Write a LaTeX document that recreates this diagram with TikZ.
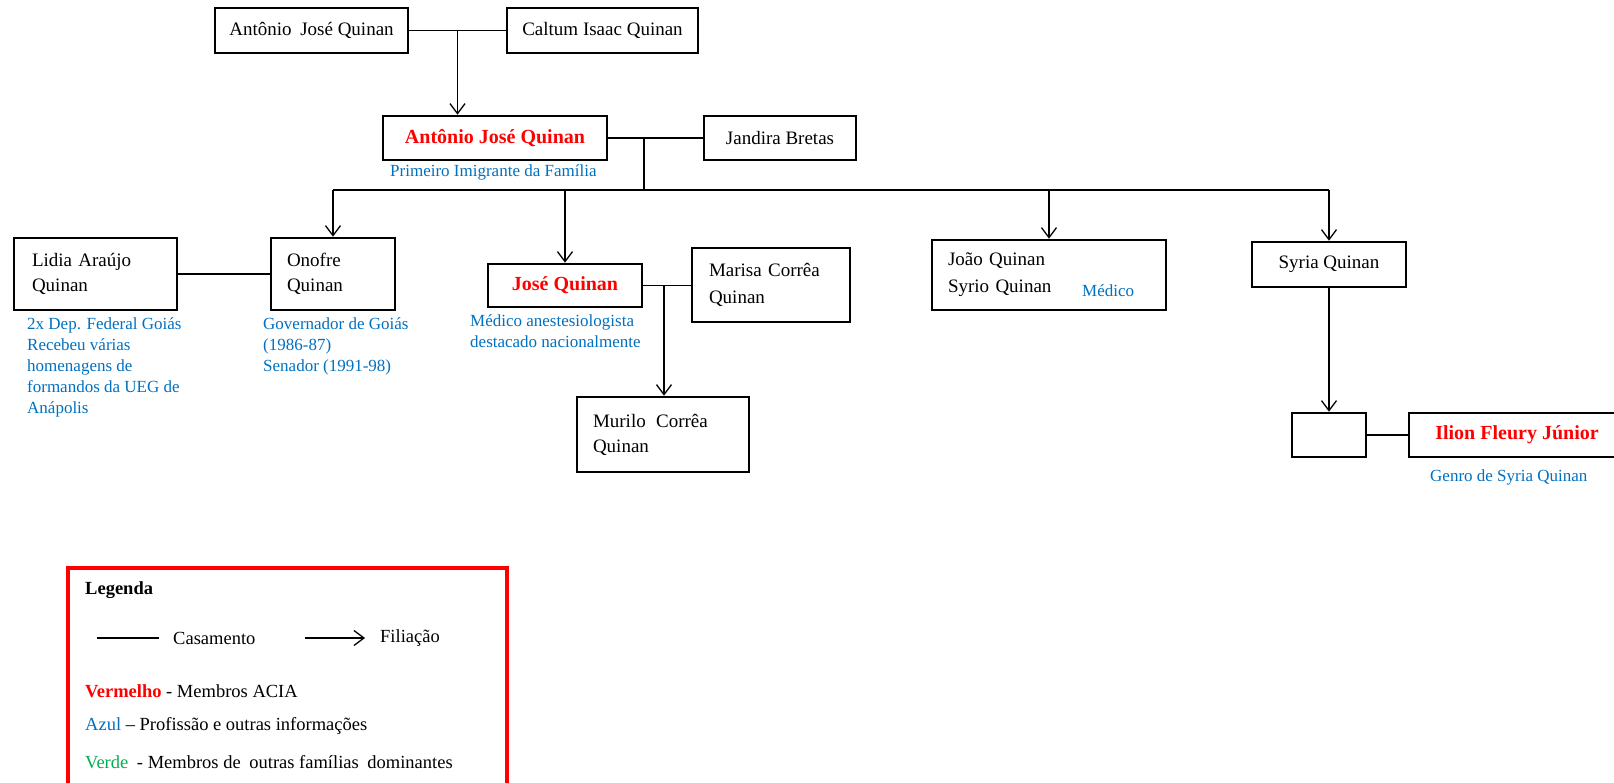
\documentclass[tikz,border=0pt]{standalone}
\usepackage{fontspec}
\setmainfont{Liberation Serif}
\usetikzlibrary{arrows.meta,calc}
\definecolor{acia}{RGB}{255,0,0}
\definecolor{info}{RGB}{0,112,192}
\definecolor{verde}{RGB}{0,176,80}
\begin{document}
\begin{tikzpicture}[x=1pt,y=-1pt,
  box/.style={draw=black, line width=2.6pt, fill=white, inner sep=0pt, font=\fontsize{19}{25}\selectfont},
  aciabox/.style={box, text=acia, font=\bfseries\fontsize{20}{24}\selectfont},
  mline/.style={line width=1.3pt},
  child/.style={line width=1.3pt, -{Straight Barb[length=10pt,width=15pt,line width=1.3pt]}},
  note/.style={text=info, font=\fontsize{17}{21}\selectfont, inner sep=0pt, align=left},
  legtext/.style={font=\fontsize{18.5}{22}\selectfont, inner sep=0pt, anchor=west}
]
\useasboundingbox (0,0) rectangle (1614,783);

% generation 1
\node[box, minimum width=193pt, minimum height=45pt] (a1) at (311.5,30.5) {Antônio\hspace{4pt} José Quinan};
\node[box, minimum width=191pt, minimum height=45pt] (c1) at (602.5,30.5) {Caltum Isaac Quinan};
% generation 2
\node[aciabox, minimum width=224pt, minimum height=44pt] (a2) at (495,138) {Antônio José Quinan};
\node[box, minimum width=152pt, minimum height=44pt] (jb) at (780,138) {Jandira Bretas};
% generation 3
\node[box, minimum width=163pt, minimum height=72pt, text width=127pt, align=left] (lidia) at (95.5,274) {Lidia Araújo\\Quinan};
\node[box, minimum width=124pt, minimum height=72pt, text width=92pt, align=left] (onofre) at (333,274) {Onofre\\Quinan};
\node[aciabox, minimum width=154pt, minimum height=43pt] (jose) at (565,285.5) {José Quinan};
\node[box, minimum width=158pt, minimum height=74pt, text width=124pt, align=left, font=\fontsize{19}{27}\selectfont] (marisa) at (771,285) {Marisa Corrêa\\Quinan};
\node[box, minimum width=234pt, minimum height=70pt, text width=202pt, align=left, font=\fontsize{19}{27}\selectfont] (joao) at (1049,275) {João Quinan\\Syrio Quinan};
\node[box, minimum width=154pt, minimum height=45pt] (syria) at (1329,264.5) {Syria Quinan};
% generation 4
\node[box, minimum width=172pt, minimum height=75pt, text width=140pt, align=left] (murilo) at (663,434.5) {Murilo\hspace{4pt} Corrêa\\Quinan};
\node[box, minimum width=74pt, minimum height=44pt] (empty) at (1329,435) {};
\node[aciabox, minimum width=216pt, minimum height=44pt] (ilion) at (1517,435) {Ilion Fleury Júnior};

% notes
\node[note, anchor=west] (n1) at (390,172) {Primeiro Imigrante da Família};
\node[note, anchor=north west] (n2) at (27,317) {2x Dep. Federal Goiás\\Recebeu várias\\homenagens de\\formandos da UEG de\\Anápolis};
\node[note, anchor=north west] (n3) at (263,317) {Governador de Goiás\\(1986-87)\\Senador (1991-98)};
\node[note, anchor=north west] (n4) at (470,314) {Médico anestesiologista\\destacado nacionalmente};
\node[note, anchor=west] (n5) at (1082,291) {Médico};
\node[note, anchor=west] (n6) at (1430,477) {Genro de Syria Quinan};

% connectors
\coordinate (m1) at ($(a1.east)!0.5!(c1.west)$);
\draw[mline] (a1.east) -- (c1.west);
\draw[child] (m1) -- (m1 |- a2.north);

\coordinate (m2) at (644,138);
\coordinate (bus) at (644,190);
\draw[mline] (a2.east) -- (jb.west);
\draw[mline] (m2) -- (bus);
\draw[mline] (onofre.north |- bus) -- (syria.north |- bus);
\draw[child] (onofre.north |- bus) -- (onofre.north);
\draw[child] (jose.north |- bus) -- (jose.north);
\draw[child] (joao.north |- bus) -- (joao.north);
\draw[child] (syria.north |- bus) -- (syria.north);

\draw[mline] (lidia.east) -- (onofre.west);

\coordinate (m3) at (664,285.5);
\draw[mline] (jose.east) -- (jose.east -| marisa.west);
\draw[child] (m3) -- (m3 |- murilo.north);

\draw[child] (syria.south) -- (empty.north);
\draw[mline] (empty.east) -- (ilion.west);

% legend
\draw[draw=acia, line width=3.5pt] (68,568) rectangle (507,812);
\node[legtext, font=\bfseries\fontsize{18.5}{22}\selectfont] (lg) at (85,590) {Legenda};
\coordinate (c1a) at (97,638);
\coordinate (c1b) at (159,638);
\draw[mline] (c1a) -- (c1b);
\node[legtext] (lcas) at (173,638) {Casamento};
\coordinate (c2a) at (305,638);
\coordinate (c2b) at (365,638);
\draw[child] (c2a) -- (c2b);
\node[legtext] (lfil) at (380,638) {Filiação};
\node[legtext] (lv) at (85,691) {\textcolor{acia}{\textbf{Vermelho}} - Membros ACIA};
\node[legtext] (la) at (85,726) {\textcolor{info}{Azul} – Profissão e outras informações};
\node[legtext] (lve) at (85,762) {\textcolor{verde}{Verde}\hspace{4pt} - Membros de\hspace{4pt} outras famílias\hspace{4pt} dominantes};
\end{tikzpicture}
\end{document}
